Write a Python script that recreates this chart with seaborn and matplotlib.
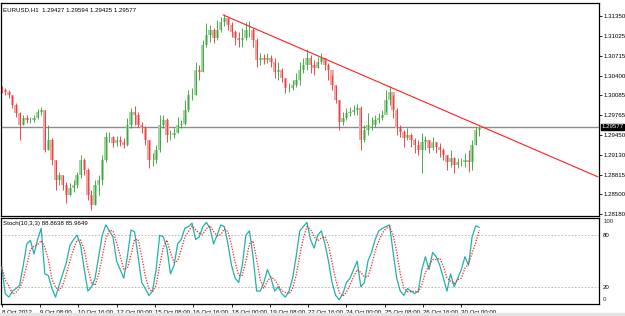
import numpy as np
import pandas as pd
import matplotlib
matplotlib.use("Agg")
import matplotlib.pyplot as plt
import matplotlib.transforms as mtransforms
import seaborn as sns

# ---------------- data (EURUSD, 3-hour aggregated bars) ----------------
first_open = 1.3022
closes = [1.3017, 1.3014, 1.3009, 1.2993, 1.2980, 1.2961, 1.2972, 1.2969, 1.2969, 1.2972,
          1.2982, 1.2985, 1.2921, 1.2937, 1.2905, 1.2873, 1.2881, 1.2865, 1.2849, 1.2860,
          1.2865, 1.2881, 1.2905, 1.2889, 1.2849, 1.2833, 1.2865, 1.2873, 1.2905, 1.2942,
          1.2942, 1.2932, 1.2937, 1.2934, 1.2929, 1.2961, 1.2982, 1.2977, 1.2961, 1.2956,
          1.2937, 1.2905, 1.2905, 1.2921, 1.2961, 1.2969, 1.2945, 1.2945, 1.2948, 1.2961,
          1.2963, 1.2985, 1.3009, 1.3009, 1.3049, 1.3046, 1.3089, 1.3105, 1.3113, 1.3100,
          1.3113, 1.3126, 1.3132, 1.3121, 1.3110, 1.3100, 1.3097, 1.3100, 1.3113, 1.3113,
          1.3097, 1.3065, 1.3068, 1.3065, 1.3068, 1.3062, 1.3046, 1.3049, 1.3036, 1.3020,
          1.3020, 1.3025, 1.3033, 1.3049, 1.3057, 1.3068, 1.3057, 1.3052, 1.3062, 1.3068,
          1.3057, 1.3049, 1.3025, 1.3001, 1.2966, 1.2972, 1.2980, 1.2982, 1.2985, 1.2988,
          1.2937, 1.2953, 1.2961, 1.2961, 1.2969, 1.2972, 1.2977, 1.3001, 1.3014, 1.2985,
          1.2956, 1.2950, 1.2940, 1.2945, 1.2937, 1.2929, 1.2921, 1.2934, 1.2937, 1.2924,
          1.2934, 1.2926, 1.2921, 1.2913, 1.2902, 1.2908, 1.2897, 1.2902, 1.2902, 1.2905,
          1.2902, 1.2929, 1.2953, 1.29577]
highs = [1.3023, 1.3020, 1.3017, 1.3009, 1.2996, 1.2982, 1.2977, 1.2977, 1.2974, 1.2977,
         1.2987, 1.2990, 1.2985, 1.2961, 1.2940, 1.2905, 1.2886, 1.2881, 1.2870, 1.2868,
         1.2873, 1.2886, 1.2913, 1.2908, 1.2892, 1.2857, 1.2873, 1.2881, 1.2913, 1.2950,
         1.2950, 1.2943, 1.2943, 1.2943, 1.2940, 1.2972, 1.2988, 1.2991, 1.2982, 1.2966,
         1.2959, 1.2937, 1.2916, 1.2929, 1.2977, 1.2977, 1.2972, 1.2953, 1.2956, 1.2974,
         1.2969, 1.3001, 1.3017, 1.3020, 1.3062, 1.3057, 1.3097, 1.3124, 1.3121, 1.3116,
         1.3129, 1.3134, 1.3139, 1.3132, 1.3126, 1.3113, 1.3110, 1.3116, 1.3126, 1.3127,
         1.3116, 1.3100, 1.3076, 1.3075, 1.3076, 1.3073, 1.3068, 1.3062, 1.3052, 1.3036,
         1.3028, 1.3033, 1.3044, 1.3062, 1.3068, 1.3082, 1.3073, 1.3065, 1.3070, 1.3076,
         1.3065, 1.3060, 1.3041, 1.3025, 1.3001, 1.2982, 1.2988, 1.2990, 1.2993, 1.2995,
         1.2991, 1.2961, 1.2980, 1.2974, 1.2977, 1.2980, 1.2985, 1.3017, 1.3023, 1.3009,
         1.2988, 1.2961, 1.2953, 1.2956, 1.2948, 1.2940, 1.2937, 1.2948, 1.2943, 1.2937,
         1.2942, 1.2934, 1.2932, 1.2924, 1.2913, 1.2921, 1.2910, 1.2908, 1.2908, 1.2916,
         1.2921, 1.2937, 1.2958, 1.29594]
lows = [1.3012, 1.3009, 1.3004, 1.2988, 1.2974, 1.2937, 1.2961, 1.2964, 1.2964, 1.2966,
        1.2971, 1.2977, 1.2918, 1.2921, 1.2897, 1.2857, 1.2865, 1.2857, 1.2836, 1.2847,
        1.2854, 1.2860, 1.2876, 1.2881, 1.2841, 1.2825, 1.2833, 1.2849, 1.2865, 1.2902,
        1.2934, 1.2926, 1.2927, 1.2927, 1.2924, 1.2927, 1.2956, 1.2961, 1.2958, 1.2948,
        1.2929, 1.2892, 1.2895, 1.2900, 1.2918, 1.2956, 1.2934, 1.2937, 1.2940, 1.2948,
        1.2956, 1.2961, 1.2982, 1.3001, 1.3009, 1.3033, 1.3046, 1.3086, 1.3094, 1.3092,
        1.3097, 1.3110, 1.3119, 1.3113, 1.3102, 1.3089, 1.3086, 1.3086, 1.3097, 1.3102,
        1.3086, 1.3054, 1.3057, 1.3059, 1.3060, 1.3054, 1.3036, 1.3033, 1.3030, 1.3012,
        1.3014, 1.3017, 1.3022, 1.3025, 1.3044, 1.3049, 1.3044, 1.3041, 1.3052, 1.3059,
        1.3049, 1.3033, 1.3017, 1.2996, 1.2953, 1.2961, 1.2969, 1.2975, 1.2977, 1.2977,
        1.2921, 1.2934, 1.2945, 1.2953, 1.2958, 1.2964, 1.2969, 1.2982, 1.2993, 1.2972,
        1.2945, 1.2942, 1.2926, 1.2937, 1.2926, 1.2916, 1.2913, 1.2884, 1.2921, 1.2916,
        1.2921, 1.2916, 1.2910, 1.2905, 1.2889, 1.2894, 1.2884, 1.2892, 1.2895, 1.2894,
        1.2886, 1.2889, 1.2929, 1.29425]

stoch_k = [43, 12, 8, 15, 18, 22, 45, 70, 74, 58, 75, 88, 35, 33, 18, 8, 22, 35, 48, 68,
           75, 80, 68, 40, 15, 20, 30, 55, 80, 92, 85, 78, 50, 40, 30, 55, 86, 84, 55, 25,
           18, 10, 15, 40, 80, 78, 65, 35, 45, 70, 75, 88, 90, 94, 75, 78,
           90, 95, 88, 70, 80, 92, 90, 70, 45, 30,
           25, 45, 80, 85, 55, 15, 15, 25, 40, 30,
           15, 20, 12, 8, 15, 30, 55, 85, 90, 95,
           75, 65, 80, 85, 70, 50, 25, 10, 5, 12,
           25, 30, 40, 50, 20, 25, 50, 60, 75, 85,
           88, 90, 92, 60, 30, 15, 10, 18, 15, 12,
           15, 40, 55, 40, 60, 55, 45, 30, 15, 35,
           20, 30, 40, 55, 45, 78, 91, 89]

bar_hours = np.arange(len(closes)) * 3          # hours since 8 Oct 2012 00:00 (trading hours)
price_ticks = [1.31350, 1.31025, 1.30715, 1.30400, 1.30085, 1.29765,
               1.29450, 1.29130, 1.28815, 1.28500, 1.28180]
last_price = 1.29577
trend_hours = [185, 498]
trend_prices = [1.3137, 1.2878]
time_tick_hours = [0, 32, 64, 96, 128, 160, 192, 224, 256, 288, 320, 352, 384]
time_tick_labels = ["8 Oct 2012", "9 Oct 08:00", "10 Oct 16:00", "12 Oct 00:00",
                    "15 Oct 08:00", "16 Oct 16:00", "18 Oct 00:00", "19 Oct 08:00",
                    "22 Oct 16:00", "24 Oct 00:00", "25 Oct 08:00", "26 Oct 16:00",
                    "30 Oct 00:00"]
title_main = "EURUSD,H1  1.29427 1.29594 1.29425 1.29577"
title_stoch = "Stoch(10,3,3) 88.8638 85.9649"

# ---------------- styling ----------------
sns.set_style("white")
plt.rcParams['font.family'] = ['Liberation Sans', 'DejaVu Sans']
FS = 4.4

W, H = 625, 316
fig = plt.figure(figsize=(W / 100, H / 100), dpi=100)
fig.patch.set_facecolor("white")


def rect(x0, y0, x1, y1):
    return [x0 / W, 1 - y1 / H, (x1 - x0) / W, (y1 - y0) / H]


ax1 = fig.add_axes(rect(0.5, 3, 599, 216))
ax2 = fig.add_axes(rect(0.5, 218, 599, 304), sharex=ax1)

df = pd.DataFrame({"hour": bar_hours, "close": closes, "high": highs, "low": lows})
df["open"] = [first_open] + closes[:-1]
df["up"] = df["close"] >= df["open"]
df["k"] = stoch_k
df["d"] = df["k"].rolling(3, min_periods=1).mean()

up_wick, up_body = "#2f9e2f", "#9fd69f"
dn_wick, dn_body = "#f02c2c", "#f6a3a3"
wick_cols = np.where(df["up"], up_wick, dn_wick)
body_cols = np.where(df["up"], up_body, dn_body)
body_lo = np.minimum(df["open"], df["close"])
body_h = np.maximum(np.abs(df["close"] - df["open"]), 0.00004)

ax1.bar(df["hour"], body_h, bottom=body_lo, width=2.8, color=body_cols,
        edgecolor="none", zorder=2)
ax1.vlines(df["hour"], df["low"], df["high"], colors=wick_cols, lw=0.6, zorder=3)

ax1.axhline(last_price, color="#8c8c8c", lw=1.0, zorder=1)
ax1.plot(trend_hours, trend_prices, color="#ff2020", lw=0.8, zorder=4)

ax1.set_xlim(-1, 499)
ax1.set_ylim(1.28153, 1.31561)
ax1.yaxis.tick_right()
ax1.set_yticks(price_ticks)
ax1.set_yticklabels([f"{v:.5f}" for v in price_ticks])
ax1.tick_params(axis="y", labelsize=FS, length=2, width=0.6, pad=1.5,
                colors="black", direction="out", right=True, left=False)
ax1.tick_params(axis="x", bottom=False, labelbottom=False)
for sp in ax1.spines.values():
    sp.set_color("black")
    sp.set_linewidth(0.9)
ax1.text(0.004, 0.978, title_main, transform=ax1.transAxes, fontsize=FS,
         ha="left", va="top", color="black")
trans = mtransforms.blended_transform_factory(ax1.transAxes, ax1.transData)
ax1.text(1.004, last_price, f"{last_price:.5f}", transform=trans, fontsize=FS,
         ha="left", va="center", color="white",
         bbox=dict(boxstyle="square,pad=0.12", fc="black", ec="black"))

# stochastic panel
sns.lineplot(x="hour", y="k", data=df, ax=ax2, color="#20b2aa", lw=0.9, zorder=3)
sns.lineplot(x="hour", y="d", data=df, ax=ax2, color="#ff2020", lw=0.9,
             linestyle=(0, (1, 1.2)), zorder=4)
ax2.axhline(80, color="#b0b0b0", lw=0.6, linestyle=(0, (2, 2)), zorder=1)
ax2.axhline(20, color="#b0b0b0", lw=0.6, linestyle=(0, (2, 2)), zorder=1)
ax2.set_ylim(0, 100)
ax2.set_ylabel("")
ax2.set_xlabel("")
ax2.yaxis.tick_right()
ax2.set_yticks([80, 20])
ax2.set_yticklabels(["80", "20"])
ax2.tick_params(axis="y", labelsize=FS, length=0, pad=3, colors="black")
ax2.text(1.007, 0.99, "100", transform=ax2.transAxes, fontsize=FS, ha="left", va="top")
ax2.text(1.007, 0.02, "0", transform=ax2.transAxes, fontsize=FS, ha="left", va="bottom")
ax2.set_xticks(time_tick_hours)
ax2.set_xticklabels(time_tick_labels, ha="left")
ax2.tick_params(axis="x", labelsize=FS, length=2.5, width=0.6, pad=1.5,
                colors="black", direction="out", bottom=True)
for sp in ax2.spines.values():
    sp.set_color("black")
    sp.set_linewidth(0.9)
ax2.text(0.004, 0.96, title_stoch, transform=ax2.transAxes, fontsize=FS,
         ha="left", va="top", color="black")

fig.patches.append(plt.Rectangle((0, 0), 1, 3 / H, transform=fig.transFigure,
                                 color="#e4e4e4", zorder=0))

fig.savefig("out.png", dpi=100, facecolor="white")
